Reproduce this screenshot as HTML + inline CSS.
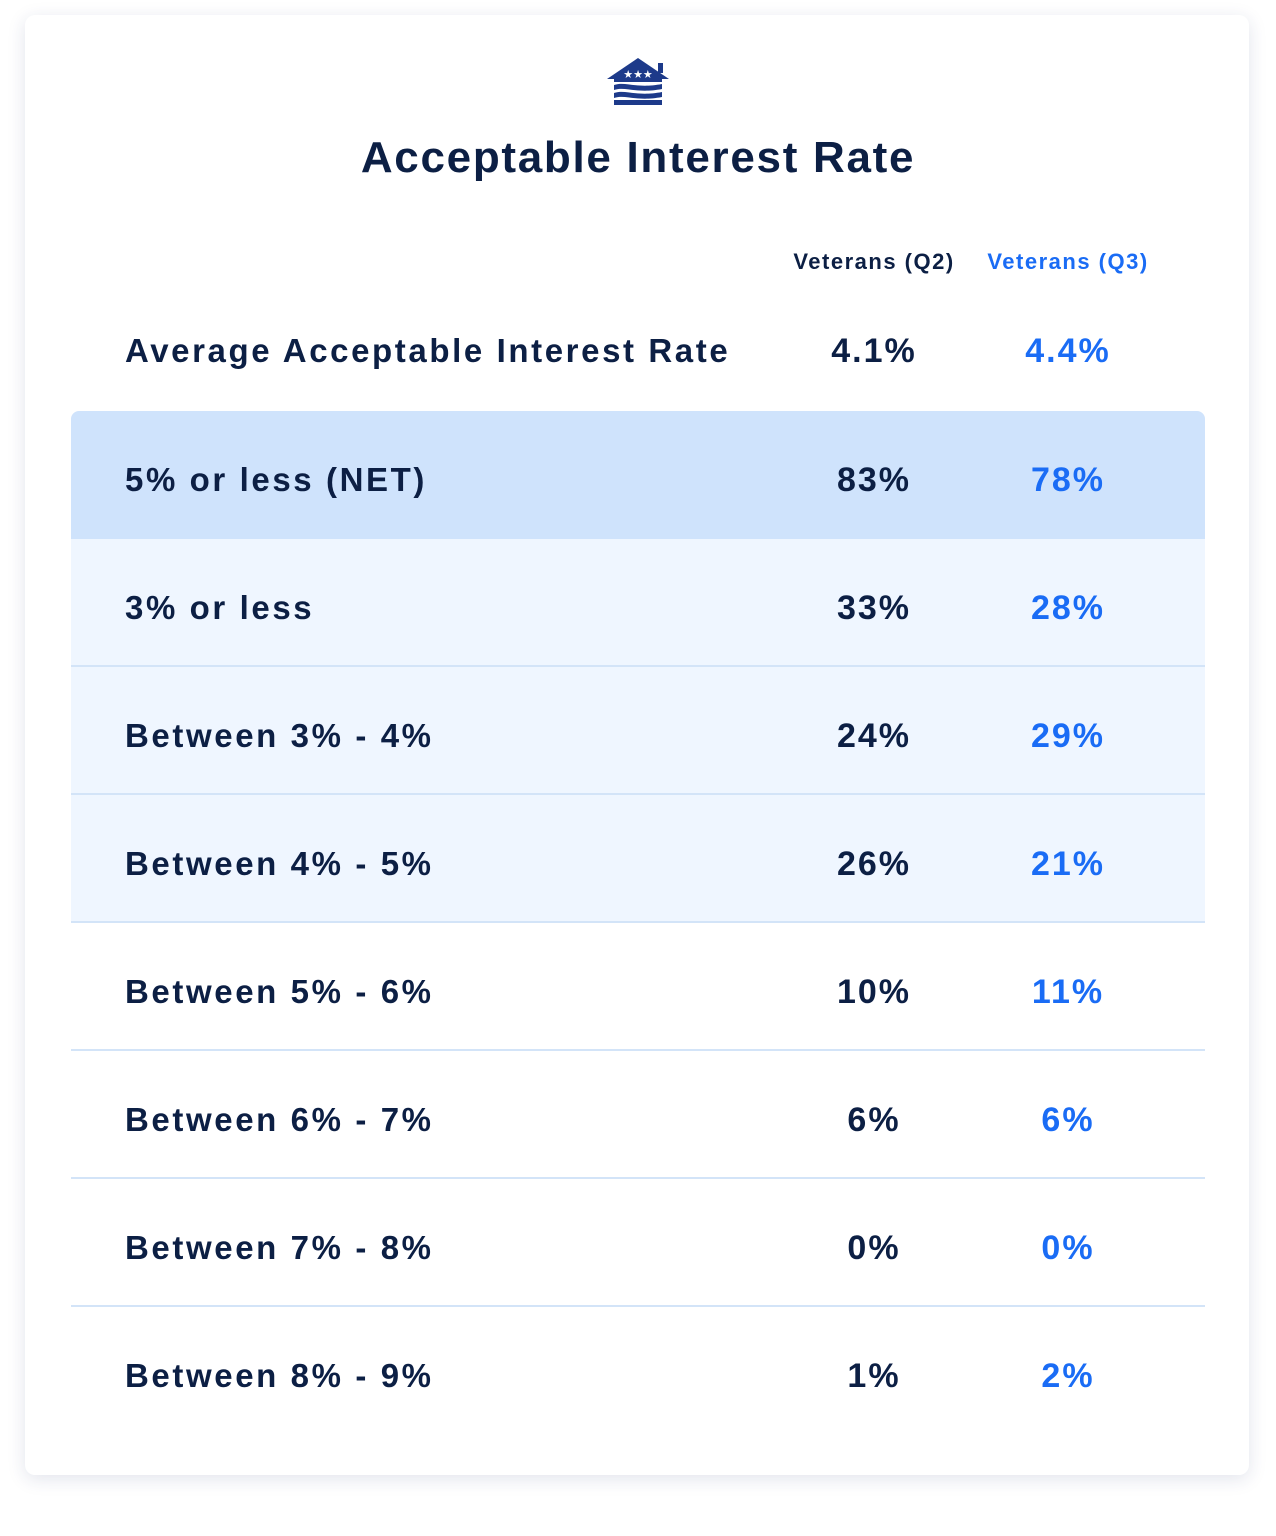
<!DOCTYPE html>
<html><head><style>
body{margin:0;width:1276px;height:1536px;background:#fff;font-family:"Liberation Sans",sans-serif;position:relative;overflow:hidden}
.card{position:absolute;left:25px;top:15px;width:1224px;height:1460px;background:#fff;border-radius:10px;box-shadow:0 4px 18px rgba(30,50,110,0.13)}
.t{position:absolute;font-weight:bold;color:#0c1f44;white-space:nowrap}
.b{color:#1a6cf5}
.row{position:absolute;left:71px;width:1134px;height:128px}
.lab{position:absolute;left:54px;top:5px;line-height:128px;font-size:33px;letter-spacing:2.6px;font-weight:bold;color:#0c1f44;white-space:nowrap}
.v1,.v2{position:absolute;top:5px;line-height:128px;font-size:34px;letter-spacing:2px;font-weight:bold;width:200px;text-align:center}
.v1{left:703px;color:#0c1f44}.v2{left:897px;color:#1a6cf5}
.sep{position:absolute;left:71px;width:1134px;height:2px;background:#d3e4f8}
</style></head><body>
<div class="card"></div>
<svg style="position:absolute;left:606px;top:57px" width="64" height="50" viewBox="0 0 64 50">
<path d="M32 1 L63 22 L56 22 L56 25 L8 25 L8 22 L1 22 Z" fill="#1d3a8a"/>
<rect x="52" y="6" width="5" height="10" fill="#1d3a8a"/>
<text x="32" y="21" font-size="11" fill="#fff" text-anchor="middle" font-family="DejaVu Sans">★★★</text>
<path d="M8 28 C20 24 30 32 56 27 L56 32 C30 37 20 29 8 33 Z" fill="#1d3a8a"/>
<path d="M8 36 C20 32 30 40 56 35 L56 40 C30 45 20 37 8 41 Z" fill="#1d3a8a"/>
<rect x="8" y="43" width="48" height="5" fill="#1d3a8a"/>
</svg>
<div class="t" style="left:0;width:1276px;text-align:center;top:133px;font-size:44px;letter-spacing:1.7px">Acceptable Interest Rate</div>
<div class="t" style="left:774px;width:200px;text-align:center;top:249px;font-size:22px;letter-spacing:1.5px">Veterans (Q2)</div>
<div class="t b" style="left:968px;width:200px;text-align:center;top:249px;font-size:22px;letter-spacing:1.5px">Veterans (Q3)</div>
<div class="row" style="top:282px"><div class="lab">Average Acceptable Interest Rate</div><div class="v1">4.1%</div><div class="v2">4.4%</div></div>
<div class="row" style="top:411px;background:#cfe3fc;border-radius:8px 8px 0 0"><div class="lab">5% or less (NET)</div><div class="v1">83%</div><div class="v2">78%</div></div>
<div class="row" style="top:539px;background:#eff6ff"><div class="lab">3% or less</div><div class="v1">33%</div><div class="v2">28%</div></div>
<div class="row" style="top:667px;background:#eff6ff"><div class="lab">Between 3% - 4%</div><div class="v1">24%</div><div class="v2">29%</div></div>
<div class="row" style="top:795px;background:#eff6ff"><div class="lab">Between 4% - 5%</div><div class="v1">26%</div><div class="v2">21%</div></div>
<div class="row" style="top:923px"><div class="lab">Between 5% - 6%</div><div class="v1">10%</div><div class="v2">11%</div></div>
<div class="row" style="top:1051px"><div class="lab">Between 6% - 7%</div><div class="v1">6%</div><div class="v2">6%</div></div>
<div class="row" style="top:1179px"><div class="lab">Between 7% - 8%</div><div class="v1">0%</div><div class="v2">0%</div></div>
<div class="row" style="top:1307px"><div class="lab">Between 8% - 9%</div><div class="v1">1%</div><div class="v2">2%</div></div>
<div class="sep" style="top:665px"></div><div class="sep" style="top:793px"></div><div class="sep" style="top:921px"></div>
<div class="sep" style="top:1049px"></div><div class="sep" style="top:1177px"></div><div class="sep" style="top:1305px"></div>
</body></html>
